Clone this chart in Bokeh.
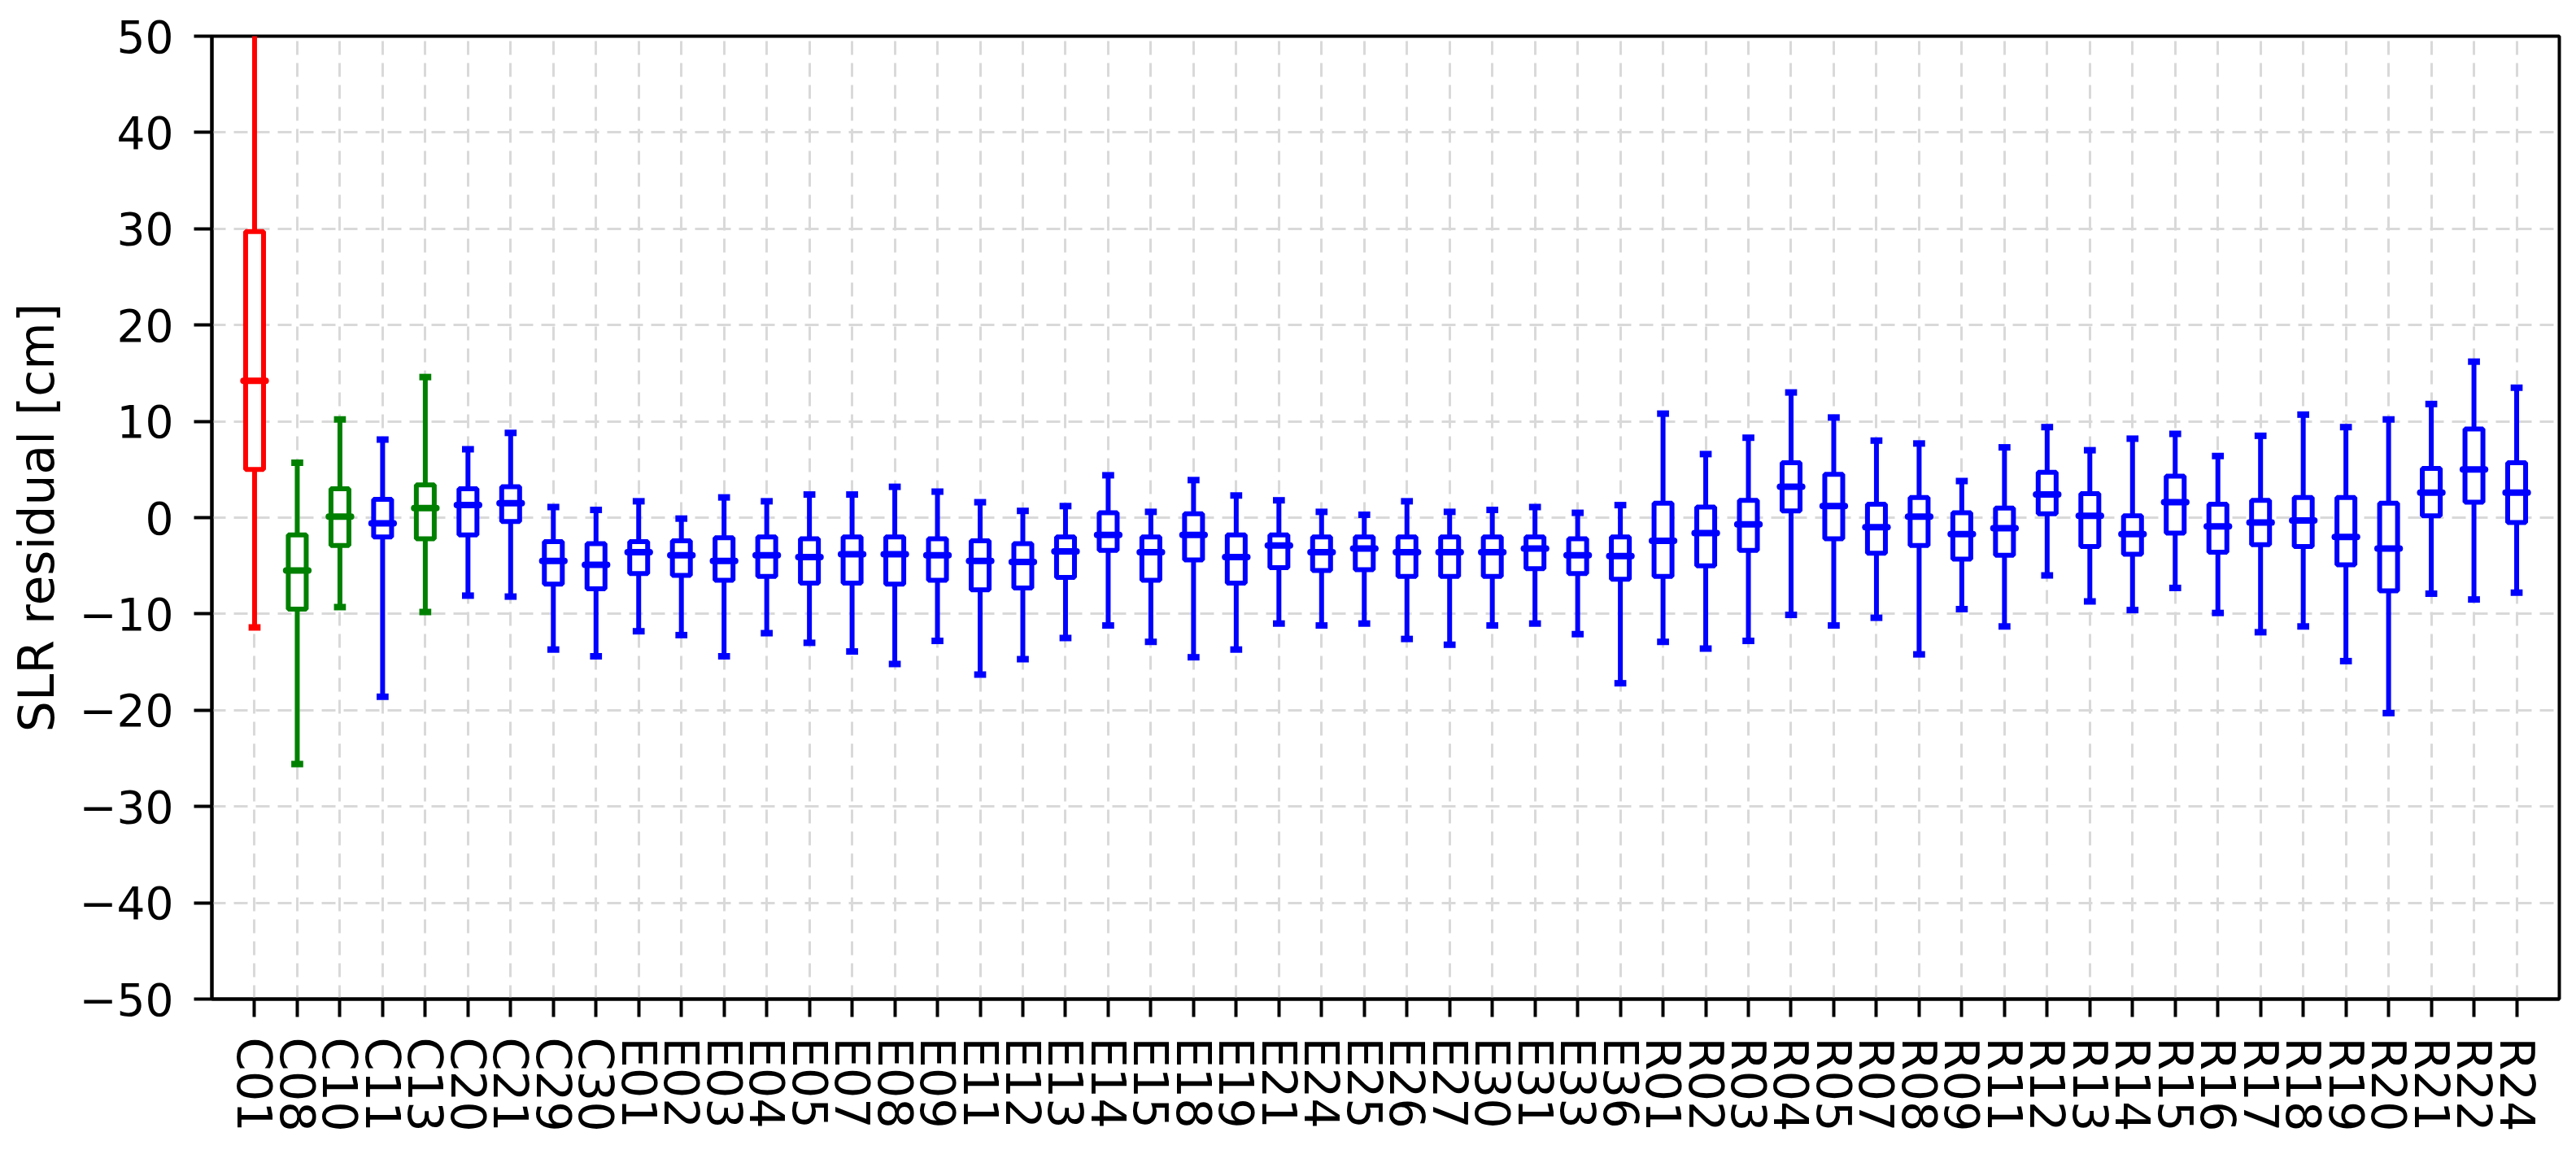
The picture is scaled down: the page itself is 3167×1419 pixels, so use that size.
import math
from bokeh.plotting import figure
from bokeh.models import ColumnDataSource, Range1d, FixedTicker
from bokeh.transform import dodge
from bokeh.embed import file_html
from bokeh.resources import INLINE

# ---- data ----
categories = ["C01", "C08", "C10", "C11", "C13", "C20", "C21", "C29", "C30",
              "E01", "E02", "E03", "E04", "E05", "E07", "E08", "E09", "E11",
              "E12", "E13", "E14", "E15", "E18", "E19", "E21", "E24", "E25",
              "E26", "E27", "E30", "E31", "E33", "E36",
              "R01", "R02", "R03", "R04", "R05", "R07", "R08", "R09", "R11",
              "R12", "R13", "R14", "R15", "R16", "R17", "R18", "R19", "R20",
              "R21", "R22", "R24"]

whisker_hi = [54.0, 5.7, 10.2, 8.1, 14.6, 7.1, 8.8, 1.1, 0.8,
              1.7, -0.1, 2.1, 1.7, 2.4, 2.4, 3.2, 2.7, 1.6,
              0.7, 1.2, 4.4, 0.6, 3.9, 2.3, 1.8, 0.6, 0.3,
              1.7, 0.6, 0.8, 1.1, 0.5, 1.3,
              10.8, 6.6, 8.3, 13.0, 10.4, 8.0, 7.7, 3.8, 7.3,
              9.4, 7.0, 8.2, 8.7, 6.4, 8.5, 10.7, 9.4, 10.2,
              11.8, 16.2, 13.5]

q3 = [29.7, -1.8, 3.0, 1.9, 3.4, 3.0, 3.2, -2.5, -2.7,
      -2.5, -2.4, -2.1, -2.0, -2.2, -2.0, -2.0, -2.2, -2.4,
      -2.7, -2.0, 0.5, -2.0, 0.4, -1.8, -1.8, -2.0, -2.0,
      -2.0, -2.0, -2.0, -2.0, -2.2, -2.0,
      1.5, 1.1, 1.8, 5.7, 4.5, 1.4, 2.1, 0.5, 1.0,
      4.7, 2.5, 0.2, 4.3, 1.4, 1.8, 2.1, 2.1, 1.5,
      5.1, 9.2, 5.7]

median = [14.2, -5.5, 0.1, -0.6, 1.0, 1.3, 1.5, -4.5, -4.9,
          -3.6, -3.9, -4.5, -3.9, -4.1, -3.8, -3.8, -3.9, -4.5,
          -4.6, -3.5, -1.8, -3.6, -1.8, -4.1, -2.9, -3.6, -3.2,
          -3.6, -3.6, -3.6, -3.2, -3.9, -4.0,
          -2.4, -1.6, -0.7, 3.2, 1.2, -1.0, 0.1, -1.7, -1.1,
          2.4, 0.2, -1.7, 1.6, -0.9, -0.5, -0.3, -2.0, -3.2,
          2.6, 5.0, 2.6]

q1 = [5.0, -9.5, -2.9, -2.0, -2.2, -1.8, -0.4, -6.9, -7.4,
      -5.8, -6.0, -6.5, -6.1, -6.8, -6.8, -6.9, -6.5, -7.5,
      -7.3, -6.2, -3.4, -6.5, -4.4, -6.8, -5.2, -5.5, -5.4,
      -6.1, -6.1, -6.1, -5.3, -5.8, -6.4,
      -6.1, -5.0, -3.4, 0.7, -2.2, -3.7, -2.9, -4.3, -3.9,
      0.4, -3.0, -3.8, -1.6, -3.6, -2.8, -3.0, -4.9, -7.6,
      0.2, 1.6, -0.5]

whisker_lo = [-11.4, -25.6, -9.3, -18.6, -9.8, -8.1, -8.2, -13.7, -14.4,
              -11.8, -12.2, -14.4, -12.0, -13.0, -13.9, -15.2, -12.8, -16.3,
              -14.7, -12.5, -11.2, -12.9, -14.5, -13.7, -11.0, -11.2, -11.0,
              -12.6, -13.2, -11.2, -11.0, -12.1, -17.2,
              -12.9, -13.6, -12.8, -10.1, -11.2, -10.4, -14.2, -9.5, -11.3,
              -6.0, -8.7, -9.6, -7.3, -9.9, -11.9, -11.3, -14.9, -20.3,
              -7.9, -8.5, -7.8]

red_group = ["C01"]
green_group = ["C08", "C10", "C13"]
y_ticks = [-50, -40, -30, -20, -10, 0, 10, 20, 30, 40, 50]

# ---- styling ----
FONT = "DejaVu Sans"
RED, GREEN, BLUE = "#ff0000", "#008000", "#0000ff"

positions = list(range(1, len(categories) + 1))
colors = [RED if c in red_group else GREEN if c in green_group else BLUE
          for c in categories]

src = ColumnDataSource(dict(x=positions, hi=whisker_hi, q3=q3, med=median,
                            q1=q1, lo=whisker_lo, color=colors))

p = figure(width=3151, height=1403, output_backend="svg", toolbar_location=None,
           x_range=Range1d(0, 55), y_range=Range1d(-50, 50),
           min_border_left=260, min_border_right=5, min_border_top=44,
           min_border_bottom=175)
p.background_fill_color = "white"
p.border_fill_color = "white"
p.outline_line_color = "black"
p.outline_line_width = 4

# grid
for g in (p.xgrid, p.ygrid):
    g.grid_line_color = "#d9d9d9"
    g.grid_line_width = 3
    g.grid_line_dash = "17 10"
p.xgrid.ticker = FixedTicker(ticks=positions)
p.ygrid.ticker = FixedTicker(ticks=y_ticks)

# axes
p.xaxis.ticker = FixedTicker(ticks=positions)
p.xaxis.major_label_overrides = {pos: lab for pos, lab in zip(positions, categories)}
p.xaxis.major_label_orientation = -math.pi / 2
p.yaxis.ticker = FixedTicker(ticks=y_ticks)
p.yaxis.major_label_overrides = {t: (("\u2212" + str(-t)) if t < 0 else str(t)) for t in y_ticks}
p.yaxis.axis_label = "SLR residual [cm]"

for ax in (p.xaxis, p.yaxis):
    ax.axis_line_color = "black"
    ax.axis_line_width = 4
    ax.major_tick_line_color = "black"
    ax.major_tick_line_width = 4
    ax.major_tick_out = 22
    ax.major_tick_in = 0
    ax.minor_tick_line_color = None
    ax.major_label_text_font = FONT
    ax.major_label_text_color = "black"
    ax.major_label_standoff = 25
    ax.axis_label_text_font = FONT
    ax.axis_label_text_font_style = "normal"
    ax.axis_label_text_color = "black"
p.xaxis.major_label_text_font_size = "59px"
p.yaxis.major_label_text_font_size = "55px"
p.yaxis.axis_label_text_font_size = "60px"
p.yaxis.axis_label_standoff = 14

# ---- box plot glyphs ----
# whiskers
p.segment(x0="x", y0="q3", x1="x", y1="hi", source=src, line_color="color", line_width=6)
p.segment(x0="x", y0="q1", x1="x", y1="lo", source=src, line_color="color", line_width=6)
# caps
p.segment(x0=dodge("x", -0.14), y0="hi", x1=dodge("x", 0.14), y1="hi", source=src,
          line_color="color", line_width=8)
p.segment(x0=dodge("x", -0.14), y0="lo", x1=dodge("x", 0.14), y1="lo", source=src,
          line_color="color", line_width=8)
# boxes
p.quad(left=dodge("x", -0.21), right=dodge("x", 0.21), bottom="q1", top="q3", source=src,
       fill_color="white", line_color="color", line_width=6)
# medians
p.segment(x0=dodge("x", -0.26), y0="med", x1=dodge("x", 0.26), y1="med", source=src,
          line_color="color", line_width=8, line_cap="round")

open("out.html", "w").write(file_html(p, INLINE))
